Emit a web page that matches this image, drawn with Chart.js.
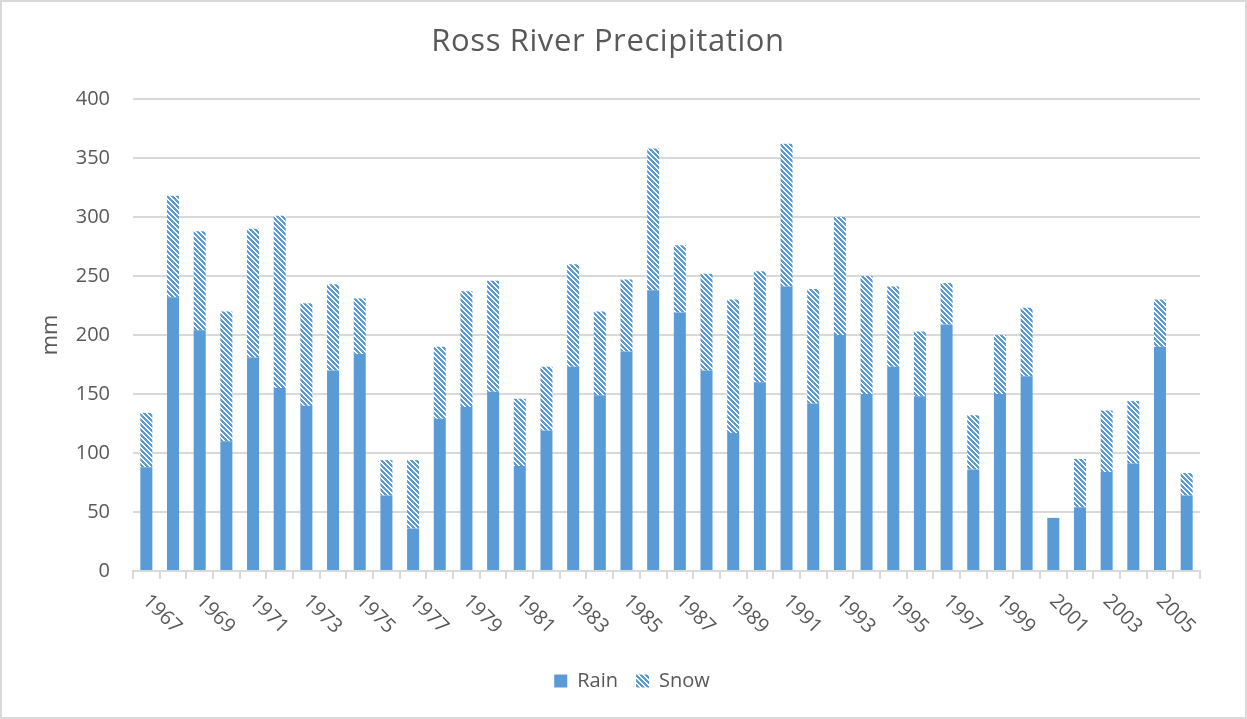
<!DOCTYPE html>
<html>
<head>
<meta charset="utf-8">
<title>Ross River Precipitation</title>
<script src="https://cdn.jsdelivr.net/npm/chart.js@4.4.1/dist/chart.umd.min.js"></script>
<style>
  html, body { margin: 0; padding: 0; background: #ffffff; }
  #wrap { width: 1247px; height: 719px; position: relative; }
  canvas { display: block; }
</style>
</head>
<body>
<div id="wrap"><canvas id="chart" width="1247" height="719"></canvas></div>
<script>
// Annual precipitation at Ross River, split into rain and snow (mm)
const years = ['1967','1968','1969','1970','1971','1972','1973','1974','1975','1976',
               '1977','1978','1979','1980','1981','1982','1983','1984','1985','1986',
               '1987','1988','1989','1990','1991','1992','1993','1994','1995','1996',
               '1997','1998','1999','2000','2001','2002','2003','2004','2005','2006'];
const rain = [88, 232, 204, 110, 181, 155, 140, 170, 184, 64,
              36, 129, 139, 152, 89, 119, 173, 149, 186, 238,
              219, 170, 117, 160, 241, 142, 200, 150, 173, 148,
              209, 86, 150, 165, 45, 54, 84, 91, 190, 64];
const snow = [46, 86, 84, 110, 109, 146, 87, 73, 47, 30,
              58, 61, 98, 94, 57, 54, 87, 71, 61, 120,
              57, 82, 113, 94, 121, 97, 100, 100, 68, 55,
              35, 46, 50, 58, 0, 41, 52, 53, 40, 19];
// Year labels written under the axis (every second year)
const shownYears = ['1967','1969','1971','1973','1975','1977','1979','1981','1983','1985',
                    '1987','1989','1991','1993','1995','1997','1999','2001','2003','2005'];
// Value axis ticks
const yTicks = [0, 50, 100, 150, 200, 250, 300, 350, 400];

const BLUE = '#5b9bd5';
const TEXT = '#595959';
const LINE = '#d9d9d9';
const FONT = "'Open Sans', 'Liberation Sans', sans-serif";

// Diagonal-stripe fill used for snow
function makeStripePattern() {
  const n = 5;
  const tile = document.createElement('canvas');
  tile.width = n; tile.height = n;
  const t = tile.getContext('2d');
  t.fillStyle = '#ffffff';
  t.fillRect(0, 0, n, n);
  t.fillStyle = BLUE;
  for (let y = 0; y < n; y++) {
    for (let x = 0; x < n; x++) {
      const d = ((x - y) % n + n) % n;
      if (d <= 2) t.fillRect(x, y, 1, 1);
    }
  }
  return document.getElementById('chart').getContext('2d').createPattern(tile, 'repeat');
}
const snowFill = makeStripePattern();

// Frame, heading and slanted year labels
const decorations = {
  id: 'decorations',
  beforeDraw(chart) {
    const ctx = chart.ctx;
    ctx.save();
    ctx.fillStyle = '#ffffff';
    ctx.fillRect(0, 0, chart.width, chart.height);
    ctx.strokeStyle = LINE;
    ctx.lineWidth = 2;
    ctx.strokeRect(1, 1, chart.width - 2, chart.height - 2);
    ctx.restore();
  },
  afterDraw(chart) {
    const ctx = chart.ctx;
    ctx.save();
    ctx.fillStyle = TEXT;
    ctx.font = '31px ' + FONT;
    ctx.letterSpacing = '0.6px';
    ctx.textAlign = 'center';
    ctx.textBaseline = 'alphabetic';
    ctx.fillText('Ross River Precipitation', 608, 51);
    ctx.restore();

    const xs = chart.scales.x;
    ctx.save();
    ctx.fillStyle = TEXT;
    ctx.font = '20px ' + FONT;
    ctx.textAlign = 'left';
    ctx.textBaseline = 'alphabetic';
    shownYears.forEach(label => {
      const px = xs.getPixelForValue(years.indexOf(label));
      ctx.save();
      ctx.translate(px - 4.5, 602);
      ctx.rotate(Math.PI / 4);
      ctx.fillText(label, 0, 0);
      ctx.restore();
    });
    ctx.restore();
  }
};

new Chart(document.getElementById('chart'), {
  type: 'bar',
  data: {
    labels: years,
    datasets: [
      { label: 'Rain', data: rain, backgroundColor: BLUE, borderWidth: 0,
        barPercentage: 0.45, categoryPercentage: 1.0 },
      { label: 'Snow', data: snow, backgroundColor: snowFill, borderWidth: 0,
        barPercentage: 0.45, categoryPercentage: 1.0 }
    ]
  },
  options: {
    responsive: false,
    animation: false,
    devicePixelRatio: 1,
    layout: { padding: { top: 99, left: 17, right: 0, bottom: 18 } },
    scales: {
      x: {
        stacked: true,
        offset: true,
        grid: { display: true, offset: true, drawOnChartArea: false, drawTicks: true,
                tickLength: 8, color: LINE, lineWidth: 2 },
        border: { display: true, color: LINE, width: 2 },
        ticks: { display: false },
        afterFit(scale) { scale.height = 82; }
      },
      y: {
        stacked: true,
        min: yTicks[0],
        max: yTicks[yTicks.length - 1],
        ticks: { stepSize: yTicks[1] - yTicks[0], color: TEXT, padding: 23,
                 font: { family: FONT, size: 20 } },
        grid: { color: LINE, lineWidth: 2, drawTicks: false },
        border: { display: false },
        title: { display: true, text: 'mm', color: TEXT,
                 font: { family: FONT, size: 22 }, padding: { top: 21, bottom: 0 } },
        afterFit(scale) { scale.width = 116; }
      },
      edge: {
        type: 'linear',
        position: 'right',
        display: true,
        grid: { display: false },
        border: { display: false },
        ticks: { display: false },
        afterFit(scale) { scale.width = 47; }
      }
    },
    plugins: {
      title: { display: false },
      tooltip: { enabled: false },
      legend: {
        position: 'bottom',
        labels: {
          color: TEXT,
          font: { family: FONT, size: 20 },
          boxWidth: 13,
          boxHeight: 13,
          padding: 18
        }
      }
    }
  },
  plugins: [decorations]
});
</script>
</body>
</html>
